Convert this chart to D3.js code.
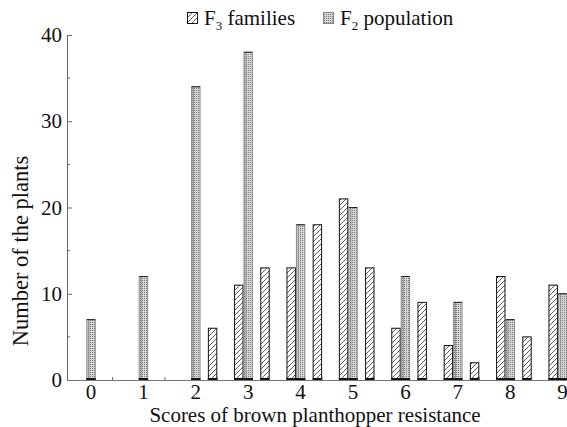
<!DOCTYPE html>
<html>
<head>
<meta charset="utf-8">
<script src="https://cdn.jsdelivr.net/npm/d3@7"></script>
<style>
  body { margin: 0; background: #fff; }
  svg text { font-family: "Liberation Serif", "Times New Roman", serif; }
</style>
</head>
<body>
<svg id="chart" width="567" height="427"></svg>
<script>
// F2 population: one bar per integer score
const f2Scores = [0, 1, 2, 3, 4, 5, 6, 7, 8, 9];
const f2Counts = [7, 12, 34, 38, 18, 20, 12, 9, 7, 10];

// F3 families: mean scores in half steps
const f3Scores = [2.5, 3, 3.5, 4, 4.5, 5, 5.5, 6, 6.5, 7, 7.5, 8, 8.5, 9];
const f3Counts = [6, 11, 13, 13, 18, 21, 13, 6, 9, 4, 2, 12, 5, 11];

const yTicks = [0, 10, 20, 30, 40];
const yMinor = [5, 15, 25, 35];
const xMinor = [0.5, 1.5, 2.5, 3.5, 4.5, 5.5, 6.5, 7.5, 8.5];

const FONT = "Liberation Serif";
const svg = d3.select("#chart");

const x = d3.scaleLinear().domain([0, 9]).range([86.3, 557.9]);
const y = d3.scaleLinear().domain([0, 40]).range([380, 35]);
const barW = x(0.18) - x(0);
const axisX = 67;

// Patterns
const defs = svg.append("defs");
const hatch = defs.append("pattern")
    .attr("id", "hatch")
    .attr("patternUnits", "userSpaceOnUse")
    .attr("width", 5).attr("height", 5);
hatch.append("rect").attr("width", 5).attr("height", 5).attr("fill", "#fff");
hatch.append("path")
    .attr("d", "M0,5 L5,0 M-1,1 L1,-1 M4,6 L6,4")
    .attr("stroke", "#333").attr("stroke-width", 0.8);

const dots = defs.append("pattern")
    .attr("id", "dots")
    .attr("patternUnits", "userSpaceOnUse")
    .attr("width", 2).attr("height", 2);
dots.append("rect").attr("width", 2).attr("height", 2).attr("fill", "#d6d6d6");
dots.append("rect").attr("width", 1).attr("height", 1).attr("fill", "#7a7a7a");

// F3 bars (left of their score)
svg.append("g").selectAll("rect")
    .data(f3Scores.map((s, i) => ({s, v: f3Counts[i]})))
    .join("rect")
    .attr("x", d => x(d.s) - barW + 0.5)
    .attr("y", d => y(d.v))
    .attr("width", barW - 1)
    .attr("height", d => y(0) - y(d.v))
    .attr("fill", "url(#hatch)")
    .attr("stroke", "#111")
    .attr("stroke-width", 1);

// F2 bars (right of their score)
const f2 = svg.append("g").selectAll("g")
    .data(f2Scores.map((s, i) => ({s, v: f2Counts[i]})))
    .join("g");
f2.append("rect")
    .attr("x", d => x(d.s) + 0.5)
    .attr("y", d => y(d.v))
    .attr("width", barW - 1)
    .attr("height", d => y(0) - y(d.v))
    .attr("fill", "url(#dots)")
    .attr("stroke", "#888")
    .attr("stroke-width", 1);
f2.append("line")
    .attr("x1", d => x(d.s) + 2.5).attr("x2", d => x(d.s) + 2.5)
    .attr("y1", d => y(d.v)).attr("y2", y(0))
    .attr("stroke", "#8c8c8c").attr("stroke-width", 1);
f2.append("line")
    .attr("x1", d => x(d.s) + 0.5).attr("x2", d => x(d.s) + barW - 0.5)
    .attr("y1", d => y(d.v)).attr("y2", d => y(d.v))
    .attr("stroke", "#222").attr("stroke-width", 1);

// dark feet of the bars on the baseline
svg.append("g").selectAll("line")
    .data(f3Scores.map(s => x(s) - barW).concat(f2Scores.map(s => x(s))))
    .join("line")
    .attr("x1", d => d).attr("x2", d => d + barW)
    .attr("y1", y(0) - 1).attr("y2", y(0) - 1)
    .attr("stroke", "#111").attr("stroke-width", 2);

// Y axis
const yAxis = svg.append("g")
    .attr("transform", `translate(${axisX},0)`)
    .call(d3.axisLeft(y).tickValues(yTicks).tickSize(-5).tickPadding(5).tickSizeOuter(0));
yAxis.attr("font-family", FONT).attr("font-size", 21);
yAxis.select(".domain").attr("stroke", "#666");
yAxis.selectAll(".tick line").attr("stroke", "#666");
yAxis.selectAll("text").attr("fill", "#111");
svg.append("g").selectAll("line")
    .data(yMinor).join("line")
    .attr("x1", axisX).attr("x2", axisX + 3)
    .attr("y1", d => y(d)).attr("y2", d => y(d))
    .attr("stroke", "#666");

// X axis baseline
svg.append("line")
    .attr("x1", axisX).attr("x2", 567)
    .attr("y1", y(0) + 0.5).attr("y2", y(0) + 0.5)
    .attr("stroke", "#777").attr("stroke-width", 1.2);
svg.append("g").selectAll("line")
    .data(xMinor).join("line")
    .attr("x1", d => x(d)).attr("x2", d => x(d))
    .attr("y1", y(0)).attr("y2", y(0) - 3)
    .attr("stroke", "#666");
svg.append("g").selectAll("text")
    .data(f2Scores).join("text")
    .attr("x", d => x(d) + barW / 2)
    .attr("y", 399)
    .attr("text-anchor", "middle")
    .attr("font-family", FONT)
    .attr("font-size", 21)
    .attr("fill", "#111")
    .text(d => d);

// Axis titles
svg.append("text")
    .attr("x", 315).attr("y", 422)
    .attr("text-anchor", "middle")
    .attr("font-family", FONT)
    .attr("font-size", 21).attr("fill", "#111")
    .text("Scores of brown planthopper resistance");
svg.append("text")
    .attr("transform", "translate(28,251) rotate(-90)")
    .attr("text-anchor", "middle")
    .attr("font-family", FONT)
    .attr("font-size", 22.5).attr("fill", "#111")
    .text("Number of the plants");

// Legend
const legend = [
  {sub: "3", rest: " families", fill: "url(#hatch)", stroke: "#111", x: 187},
  {sub: "2", rest: " population", fill: "url(#dots)", stroke: "#888", x: 323}
];
const lg = svg.append("g").selectAll("g").data(legend).join("g");
lg.append("rect")
    .attr("x", d => d.x + 0.5).attr("y", 12.5)
    .attr("width", 10).attr("height", 11)
    .attr("fill", d => d.fill).attr("stroke", d => d.stroke);
const lt = lg.append("text")
    .attr("x", d => d.x + 17).attr("y", 25)
    .attr("font-family", FONT)
    .attr("font-size", 21).attr("fill", "#111");
lt.append("tspan").text("F");
lt.append("tspan").attr("font-size", 13).attr("dy", 5).text(d => d.sub);
lt.append("tspan").attr("dy", -5).text(d => d.rest);
</script>
</body>
</html>
